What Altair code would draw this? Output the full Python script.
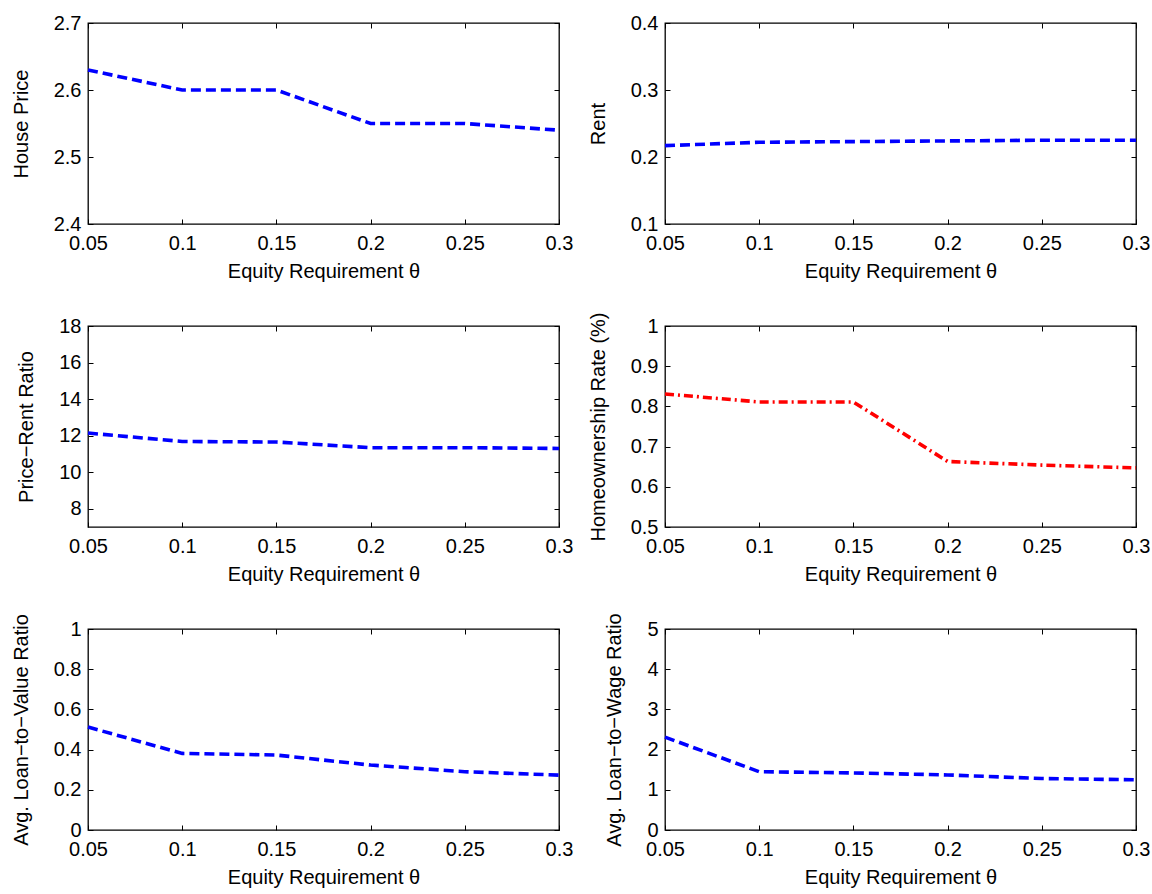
import altair as alt
import pandas as pd

# Equity requirement grid (x axis shared by all panels)
theta = [0.05, 0.10, 0.15, 0.20, 0.25, 0.30]
x_ticks = [0.05, 0.1, 0.15, 0.2, 0.25, 0.3]

# Model outcomes at each equity requirement
house_price = [2.63, 2.60, 2.60, 2.55, 2.55, 2.54]
rent = [0.217, 0.222, 0.223, 0.224, 0.225, 0.225]
price_rent = [12.14, 11.68, 11.65, 11.34, 11.34, 11.30]
homeownership = [0.831, 0.811, 0.811, 0.663, 0.654, 0.647]
loan_to_value = [0.512, 0.381, 0.373, 0.323, 0.290, 0.273]
loan_to_wage = [2.31, 1.45, 1.42, 1.37, 1.28, 1.25]

# Y-axis domains and tick values per panel
hp_domain, hp_ticks = [2.4, 2.7], [2.4, 2.5, 2.6, 2.7]
rent_domain, rent_ticks = [0.1, 0.4], [0.1, 0.2, 0.3, 0.4]
pr_domain, pr_ticks = [7, 18], [8, 10, 12, 14, 16, 18]
ho_domain, ho_ticks = [0.5, 1.0], [0.5, 0.6, 0.7, 0.8, 0.9, 1.0]
ltv_domain, ltv_ticks = [0, 1], [0, 0.2, 0.4, 0.6, 0.8, 1.0]
ltw_domain, ltw_ticks = [0, 5], [0, 1, 2, 3, 4, 5]

X_TITLE = "Equity Requirement θ"
FONT = "Liberation Sans"
BLUE = "#0000FF"
RED = "#FF0000"

W, H = 471, 201

common_axis = dict(
    offset=-5, tickSize=5, tickWidth=1, tickColor="black", domain=False,
    grid=False, labelFont=FONT, labelFontSize=20, labelColor="black",
    labelFlush=False, labelOverlap=False, labelBound=False, format="~g",
    titleFont=FONT, titleFontSize=20, titleFontWeight="normal",
    titleColor="black",
)


def panel(values, y_title, y_domain, y_ticks, color, dash):
    df = pd.DataFrame({"theta": theta, "value": values})
    xs = alt.Scale(domain=[0.05, 0.3], nice=False, zero=False)
    ys = alt.Scale(domain=y_domain, nice=False, zero=False)

    main = alt.Chart(df).mark_line(
        color=color, strokeWidth=3.6, strokeDash=dash, strokeCap="butt"
    ).encode(
        x=alt.X("theta:Q", scale=xs, axis=alt.Axis(
            values=x_ticks, title=X_TITLE, orient="bottom",
            labelPadding=9, titlePadding=8, **common_axis)),
        y=alt.Y("value:Q", scale=ys, axis=alt.Axis(
            values=y_ticks, title=y_title, orient="left",
            labelPadding=7, titlePadding=22, **common_axis)),
    )

    # inward ticks on the top and right edges of the frame
    mirror = alt.Chart(df).mark_line(strokeOpacity=0).encode(
        x=alt.X("theta:Q", scale=xs, axis=alt.Axis(
            values=x_ticks, title=None, orient="top", labels=False,
            **common_axis)),
        y=alt.Y("value:Q", scale=ys, axis=alt.Axis(
            values=y_ticks, title=None, orient="right", labels=False,
            **common_axis)),
    )

    return alt.layer(main, mirror).resolve_axis(
        x="independent", y="independent"
    ).properties(width=W, height=H)


panels = [
    panel(house_price, "House Price", hp_domain, hp_ticks, BLUE, [10, 5]),
    panel(rent, "Rent", rent_domain, rent_ticks, BLUE, [10, 5]),
    panel(price_rent, "Price−Rent Ratio", pr_domain, pr_ticks, BLUE, [10, 5]),
    panel(homeownership, "Homeownership Rate (%)", ho_domain, ho_ticks, RED,
          [9, 4, 2, 4]),
    panel(loan_to_value, "Avg. Loan−to−Value Ratio", ltv_domain, ltv_ticks,
          BLUE, [10, 5]),
    panel(loan_to_wage, "Avg. Loan−to−Wage Ratio", ltw_domain, ltw_ticks,
          BLUE, [10, 5]),
]

chart = alt.concat(
    *panels, columns=2,
    spacing={"row": 102, "column": 106},
    bounds="flush",
).properties(
    padding={"left": 10, "top": 12, "right": 0, "bottom": 0},
    background="white",
).configure_view(
    stroke="black", strokeWidth=1.3
)

chart.save("out.html", embed_options={"renderer": "svg", "actions": False})
